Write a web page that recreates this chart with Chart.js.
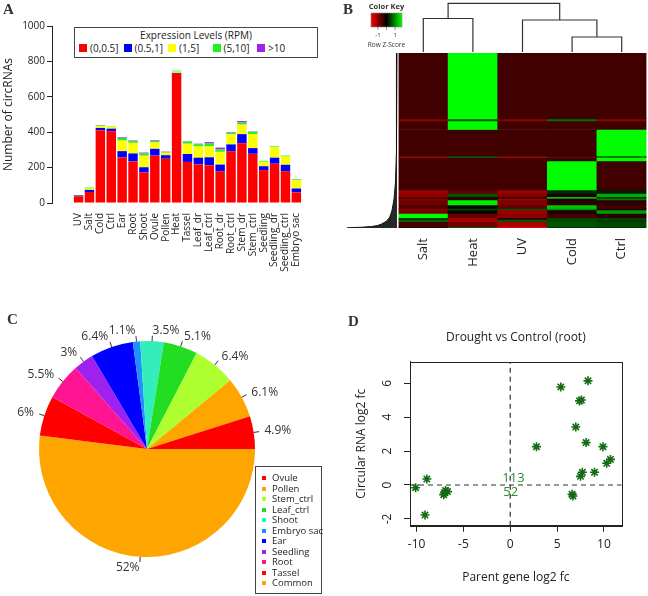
<!DOCTYPE html>
<html>
<head>
<meta charset="utf-8">
<title>circRNA overview</title>
<script src="https://cdn.jsdelivr.net/npm/chart.js@4.4.1/dist/chart.umd.min.js"></script>
<style>
  html, body { margin: 0; padding: 0; background: #fff; }
  body { position: relative; width: 648px; height: 596px; overflow: hidden; font-family: "Open Sans", sans-serif; color: #222; }
  canvas { position: absolute; }
  .tag { position: absolute; font: bold 15px "Liberation Serif", serif; color: #333; line-height: 1; }
  .legend { position: absolute; background: #fff; border: 1px solid #444; box-sizing: border-box; }
  #legA { left: 74px; top: 27px; width: 244px; height: 31px; font-size: 10px; }
  #legA .title { text-align: center; line-height: 12px; margin-top: 1px; }
  #legA .items { display: flex; padding-left: 4px; margin-top: 2px; }
  #legA .item { width: 44.5px; flex: none; display: flex; align-items: center; white-space: nowrap; height: 10px; }
  #legA .sw { width: 8px; height: 8px; margin-right: 3px; flex: none; }
  #legC { left: 255px; top: 466px; width: 67px; height: 128px; font-size: 9.5px; padding: 6px 0 0 6px; }
  #legC .item { height: 10.5px; line-height: 10.5px; display: flex; align-items: center; white-space: nowrap; }
  #legC .sw { width: 4px; height: 4px; margin-right: 6px; flex: none; }
</style>
</head>
<body>
<canvas id="chartA" width="320" height="290" style="left:0;top:0"></canvas>
<div id="legA" class="legend"></div>
<canvas id="colTree" width="308" height="52" style="left:340px;top:0"></canvas>
<canvas id="rowTree" width="51" height="175" style="left:347px;top:53px"></canvas>
<canvas id="heat" width="258" height="240" style="left:390px;top:50px"></canvas>
<canvas id="pie" width="330" height="291" style="left:0;top:305px"></canvas>
<div id="legC" class="legend"></div>
<canvas id="scatter" width="318" height="286" style="left:330px;top:310px"></canvas>
<div class="tag" style="left:3px;top:2px">A</div>
<div class="tag" style="left:343px;top:2px">B</div>
<div class="tag" style="left:7px;top:312px">C</div>
<div class="tag" style="left:348px;top:314px">D</div>
<script>
// A: circRNA counts per sample, split by expression level
const samples = ["UV","Salt","Cold","Ctrl","Ear","Root","Shoot","Ovule","Pollen","Heat","Tassel",
  "Leaf_dr","Leaf_ctrl","Root_dr","Root_ctrl","Stem_dr","Stem_ctrl","Seedling","Seedling_dr","Seedling_ctrl","Embryo sac"];
const levelNames = ["(0,0.5]","(0.5,1]","(1,5]","(5,10]",">10"];
const levelColors = ["#ff0000","#0000ff","#ffff00","#22ee22","#a020f0"];
const lvl1 = [38, 62, 411, 406, 258, 235, 172, 268, 250, 730, 232, 218, 213, 180, 293, 338, 278, 186, 222, 180, 60];
const lvl2 = [5, 12, 13, 14, 35, 45, 30, 38, 20, 5, 45, 38, 45, 37, 38, 51, 32, 22, 34, 36, 22];
const lvl3 = [2, 8, 10, 12, 60, 60, 65, 36, 14, 8, 58, 64, 62, 72, 58, 54, 80, 25, 60, 47, 47];
const lvl4 = [0, 5, 4, 3, 14, 10, 13, 8, 4, 5, 12, 12, 16, 14, 8, 12, 12, 5, 4, 5, 5];
const lvl5 = [0, 0, 2, 0, 4, 3, 5, 4, 2, 0, 2, 3, 8, 10, 3, 8, 2, 0, 0, 0, 0];
const levels = [lvl1, lvl2, lvl3, lvl4, lvl5];

// B: heatmap bands (rows per band) and row z-scores per column
const heatCols = ["Salt","Heat","UV","Cold","Ctrl"];
const bandRows = [66, 2, 8.5, 26.5, 1.5, 3.5, 29, 3.3, 3.4, 1.6, 1.7, 5, 3.3, 1.7, 3.3, 4.4, 1.6, 2.4, 5, 1.3];
const bandZ = [
  [-0.45, 1.79, -0.45, -0.45, -0.45],
  [-1.0, 0.6, -1.0, 0.8, -1.0],
  [-0.45, 1.79, -0.45, -0.45, -0.45],
  [-0.45, -0.45, -0.45, -0.45, 1.79],
  [-1.0, 0.6, -1.0, -0.45, 0.6],
  [-0.45, -0.45, -0.45, -0.45, 1.79],
  [-0.45, -0.45, -0.45, 1.79, -0.45],
  [-1.1, -0.7, -1.1, 0.3, 0.2],
  [-1.0, 0.6, -0.9, -0.2, 1.2],
  [-0.6, -0.3, -0.4, 1.3, 0.4],
  [-0.9, -0.3, -1.1, -0.2, 0.9],
  [-0.8, 1.7, -0.9, -0.3, -0.3],
  [-0.6, 0.05, -0.7, 1.4, -0.5],
  [-1.0, 0.5, 0.6, 1.0, -0.2],
  [-0.8, 0.05, -1.1, -0.2, 1.1],
  [1.8, -0.7, -1.0, -0.5, -0.3],
  [0.4, -1.1, -0.3, 0.5, 0.5],
  [0.7, -1.2, 0.6, 0.5, 0.4],
  [-0.5, -0.8, -1.2, 0.6, 0.5],
  [-0.3, 0.6, -1.6, 0.4, 0.4]
];
const zLimit = 1.8;
const keyTicks = [-1, 0, 1];
// column dendrogram, hclust style (negative = leaf, positive = earlier merge)
const mergeLeft = [-1, -4, -3, 1];
const mergeRight = [-2, -5, 2, 3];
const mergeHeight = [33.5, 15, 32, 48.7];
// row dendrogram outline: merge height against row position
const rowTreeRows = [0, 97, 130, 147, 158, 164, 168, 171, 172.5, 173.5, 174.2, 174.8];
const rowTreeHeights = [1, 1.5, 2.5, 4, 6, 8, 11, 16, 20, 26, 35, 50];

// C: share of circRNAs per tissue (drawn clockwise from 3 o'clock)
const pieLabels = ["Common","Tassel","Root","Seedling","Ear","Embryo sac","Shoot","Leaf_ctrl","Stem_ctrl","Pollen","Ovule"];
const piePct = [52, 6, 5.5, 3, 6.4, 1.1, 3.5, 5.1, 6.4, 6.1, 4.9];
const pieColors = ["#ffa500","#ff0000","#ff1493","#a020f0","#0000ff","#1e90ff","#33eebb","#22dd22","#adff2f","#ffa500","#ff0000"];

// D: drought vs control (root)
const parentFc = [-10.1, -8.9, -9.1, -7.1, -6.7, -6.9, -7.0, 2.8, 5.4, 8.3, 7.4, 7.6, 7.0, 8.1, 9.9, 10.7, 10.3, 9.0, 7.7, 7.5, 6.7, 6.6];
const circFc = [-0.16, 0.35, -1.77, -0.57, -0.39, -0.33, -0.45, 2.26, 5.78, 6.14, 4.96, 5.01, 3.42, 2.50, 2.26, 1.51, 1.28, 0.75, 0.75, 0.51, -0.65, -0.55];
const quadCounts = ["113", "52"];
const quadPos = [[0.35, 0.4], [0.05, -0.45]];
const xRangeD = [-10.7, 11.9];
const yRangeD = [-2.4, 7.27];
const xTicksD = [-10, -5, 0, 5, 10];
const yTicksD = [-2, 0, 2, 4, 6];

Chart.defaults.font.family = '"Open Sans", sans-serif';
Chart.defaults.color = '#222';
Chart.defaults.animation = false;

function zColor(z) {
  const t = Math.max(-1, Math.min(1, z / zLimit));
  const v = Math.round(Math.abs(t) * 255);
  return t < 0 ? `rgb(${v},0,0)` : `rgb(0,${v},0)`;
}
const noPlugins = { legend: { display: false }, tooltip: { enabled: false } };

// ---- A
new Chart(document.getElementById('chartA'), {
  type: 'bar',
  data: {
    datasets: levels.map((vals, k) => ({
      label: levelNames[k],
      data: vals.map((v, i) => ({ x: i, y: v })),
      backgroundColor: levelColors[k],
      borderWidth: 0, barPercentage: 0.87, categoryPercentage: 1
    }))
  },
  options: {
    responsive: false,
    layout: { padding: { top: 26, right: 11 } },
    plugins: noPlugins,
    scales: {
      x: {
        type: 'linear', stacked: true, min: -1.88, max: 20.6,
        afterBuildTicks: s => { s.ticks = samples.map((_, i) => ({ value: i })); },
        afterFit: s => { s.height = 87; },
        grid: { display: false, drawTicks: false }, border: { display: false },
        ticks: { autoSkip: false, minRotation: 90, maxRotation: 90, padding: 10, font: { size: 10 },
                 callback: v => samples[v] }
      },
      y: {
        stacked: true, min: 0, max: 1000,
        afterFit: s => { s.width = 52; },
        grid: { drawOnChartArea: false, tickLength: 5, color: '#222' },
        border: { color: '#222' },
        ticks: { stepSize: 200, padding: 2, font: { size: 10 }, callback: v => String(v) },
        title: { display: true, text: 'Number of circRNAs', font: { size: 12 }, padding: { top: 1 } }
      }
    }
  }
});

// legend for A
const legA = document.getElementById('legA');
legA.innerHTML = '<div class="title">Expression Levels (RPM)</div><div class="items">' +
  levelNames.map((n, k) => `<div class="item"><span class="sw" style="background:${levelColors[k]}"></span>${n}</div>`).join('') +
  '</div>';

// ---- B: column dendrogram + colour key
const nodePos = [], nodeH = [];
const childPos = k => k < 0 ? -k - 1 : nodePos[k - 1];
const childH = k => k < 0 ? 0 : nodeH[k - 1];
const treeSets = mergeHeight.map((h, i) => {
  const l = mergeLeft[i], r = mergeRight[i];
  const xl = childPos(l), xr = childPos(r);
  nodePos.push((xl + xr) / 2);
  nodeH.push(h);
  return {
    data: [{ x: xl, y: childH(l) }, { x: xl, y: h }, { x: xr, y: h }, { x: xr, y: childH(r) }],
    showLine: true, pointRadius: 0, borderColor: '#333', borderWidth: 1.2
  };
});

const colorKey = {
  id: 'colorKey',
  afterDraw(chart) {
    const ctx = chart.ctx;
    const x0 = 31, y0 = 13, w = 31, h = 14;
    const g = ctx.createLinearGradient(x0, 0, x0 + w, 0);
    g.addColorStop(0, zColor(-zLimit));
    g.addColorStop(0.5, zColor(0));
    g.addColorStop(1, zColor(zLimit));
    ctx.save();
    ctx.fillStyle = g;
    ctx.fillRect(x0, y0, w, h);
    ctx.strokeStyle = '#888';
    ctx.lineWidth = 0.6;
    ctx.strokeRect(x0, y0, w, h);
    ctx.fillStyle = '#333';
    ctx.textAlign = 'center';
    ctx.textBaseline = 'middle';
    ctx.font = 'bold 7.5px "Open Sans"';
    ctx.fillText('Color Key', x0 + w / 2, 7);
    ctx.font = '6px "Open Sans"';
    ctx.strokeStyle = '#555';
    keyTicks.forEach(z => {
      const x = x0 + (z + zLimit) / (2 * zLimit) * w;
      ctx.beginPath();
      ctx.moveTo(x, y0 + h);
      ctx.lineTo(x, y0 + h + 3);
      ctx.stroke();
      if (z !== 0) ctx.fillText(String(z), x, 35);
    });
    ctx.font = '6.5px "Open Sans"';
    ctx.fillText('Row Z-Score', x0 + w / 2, 45);
    ctx.restore();
  }
};

new Chart(document.getElementById('colTree'), {
  type: 'scatter',
  data: { datasets: treeSets },
  options: {
    responsive: false,
    layout: { padding: { left: 58.5, right: 1.5, top: 0, bottom: 0 } },
    plugins: noPlugins,
    scales: {
      x: { min: -0.5, max: 4.5, display: false },
      y: { min: 0, max: 52, display: false }
    }
  },
  plugins: [colorKey]
});

// row dendrogram: outline, filled down to the last row
new Chart(document.getElementById('rowTree'), {
  type: 'scatter',
  data: {
    datasets: [{
      data: rowTreeRows.map((r, i) => ({ x: rowTreeHeights[i], y: r })),
      showLine: true, borderColor: '#111', borderWidth: 1, pointRadius: 0,
      fill: { value: 175 }, backgroundColor: 'rgba(15,15,15,0.9)'
    }]
  },
  options: {
    responsive: false,
    plugins: noPlugins,
    scales: {
      x: { reverse: true, min: 0, max: 50, display: false },
      y: { reverse: true, min: 0, max: 175, display: false }
    }
  }
});

// heatmap as stacked bands
const totalRows = bandRows.reduce((a, b) => a + b, 0);
new Chart(document.getElementById('heat'), {
  type: 'bar',
  data: {
    labels: heatCols,
    datasets: bandRows.map((n, i) => ({
      data: heatCols.map(() => n),
      backgroundColor: bandZ[i].map(zColor),
      borderWidth: 0, barPercentage: 1, categoryPercentage: 1
    }))
  },
  options: {
    responsive: false,
    layout: { padding: { left: 8.5, right: 1.5, top: 3 } },
    plugins: noPlugins,
    scales: {
      x: {
        stacked: true, grid: { display: false, drawTicks: false }, border: { display: false },
        afterFit: s => { s.height = 62; },
        ticks: { minRotation: 90, maxRotation: 90, padding: 10, font: { size: 13 } }
      },
      y: { stacked: true, reverse: true, min: 0, max: totalRows, display: false }
    }
  }
});

// ---- C
const pieText = {
  id: 'pieText',
  afterDatasetsDraw(chart) {
    const ctx = chart.ctx;
    const meta = chart.getDatasetMeta(0);
    ctx.save();
    ctx.font = '12px "Open Sans"';
    ctx.fillStyle = '#333';
    ctx.strokeStyle = '#333';
    ctx.lineWidth = 1;
    ctx.textBaseline = 'middle';
    meta.data.forEach((arc, i) => {
      const p = arc.getProps(['x', 'y', 'startAngle', 'endAngle', 'outerRadius']);
      const a = (p.startAngle + p.endAngle) / 2;
      const c = Math.cos(a), s = Math.sin(a), r = p.outerRadius;
      ctx.beginPath();
      ctx.moveTo(p.x + c * r, p.y + s * r);
      ctx.lineTo(p.x + c * r * 1.05, p.y + s * r * 1.05);
      ctx.stroke();
      ctx.textAlign = c < 0 ? 'right' : 'left';
      ctx.fillText(piePct[i] + '%', p.x + c * r * 1.1, p.y + s * r * 1.1);
    });
    ctx.restore();
  }
};

new Chart(document.getElementById('pie'), {
  type: 'pie',
  data: { labels: pieLabels, datasets: [{ data: piePct, backgroundColor: pieColors, borderWidth: 0 }] },
  options: {
    responsive: false, rotation: 90,
    layout: { padding: { left: 39, right: 75, top: 36, bottom: 39 } },
    plugins: noPlugins
  },
  plugins: [pieText]
});

document.getElementById('legC').innerHTML = pieLabels.map((n, i) => i).reverse()
  .map(i => `<div class="item"><span class="sw" style="background:${pieColors[i]}"></span>${pieLabels[i]}</div>`).join('');

// ---- D
const frame = {
  id: 'frame',
  afterDraw(chart) {
    const { ctx, chartArea: a, scales } = chart;
    ctx.save();
    ctx.strokeStyle = '#222';
    ctx.lineWidth = 1;
    ctx.strokeRect(Math.round(a.left) + 0.5, Math.round(a.top) + 0.5, Math.round(a.right - a.left), Math.round(a.bottom - a.top));
    ctx.textAlign = 'center';
    ctx.textBaseline = 'middle';
    ctx.fillStyle = '#222';
    ctx.font = '12px "Open Sans"';
    ctx.fillText('Drought vs Control (root)', (a.left + a.right) / 2, 28);
    // y tick labels run parallel to the axis
    yTicksD.forEach(v => {
      ctx.save();
      ctx.translate(a.left - 22, scales.y.getPixelForValue(v));
      ctx.rotate(-Math.PI / 2);
      ctx.fillText(String(v), 0, 0);
      ctx.restore();
    });
    ctx.fillStyle = '#2e8b2e';
    ctx.font = '13px "Open Sans"';
    quadCounts.forEach((t, i) => {
      ctx.fillText(t, scales.x.getPixelForValue(quadPos[i][0]), scales.y.getPixelForValue(quadPos[i][1]));
    });
    ctx.restore();
  }
};

new Chart(document.getElementById('scatter'), {
  type: 'scatter',
  data: {
    datasets: [
      {
        data: parentFc.map((x, i) => ({ x, y: circFc[i] })),
        pointStyle: 'star', pointRadius: 4.5, borderColor: '#136b13', backgroundColor: '#136b13', borderWidth: 1.6
      },
      {
        data: [{ x: xRangeD[0], y: 0 }, { x: xRangeD[1], y: 0 }],
        showLine: true, pointRadius: 0, borderColor: '#333', borderWidth: 1.2, borderDash: [5, 4]
      },
      {
        data: [{ x: 0, y: yRangeD[0] }, { x: 0, y: yRangeD[1] }],
        showLine: true, pointRadius: 0, borderColor: '#333', borderWidth: 1.2, borderDash: [5, 4]
      }
    ]
  },
  options: {
    responsive: false,
    layout: { padding: { right: 26.3, top: 51.7 } },
    plugins: noPlugins,
    scales: {
      x: {
        min: xRangeD[0], max: xRangeD[1],
        afterBuildTicks: s => { s.ticks = xTicksD.map(v => ({ value: v })); },
        afterFit: s => { s.height = 70.3; },
        grid: { drawOnChartArea: false, tickLength: 6, color: '#222' }, border: { color: '#222' },
        ticks: { padding: 6, font: { size: 12 } },
        title: { display: true, text: 'Parent gene log2 fc', font: { size: 12 }, padding: { bottom: 10.8 } }
      },
      y: {
        min: yRangeD[0], max: yRangeD[1],
        afterBuildTicks: s => { s.ticks = yTicksD.map(v => ({ value: v })); },
        afterFit: s => { s.width = 80; },
        grid: { drawOnChartArea: false, tickLength: 6, color: '#222' }, border: { color: '#222' },
        ticks: { display: false },
        title: { display: true, text: 'Circular RNA log2 fc', font: { size: 12 }, padding: { top: 24.5 } }
      }
    }
  },
  plugins: [frame]
});
</script>
</body>
</html>
